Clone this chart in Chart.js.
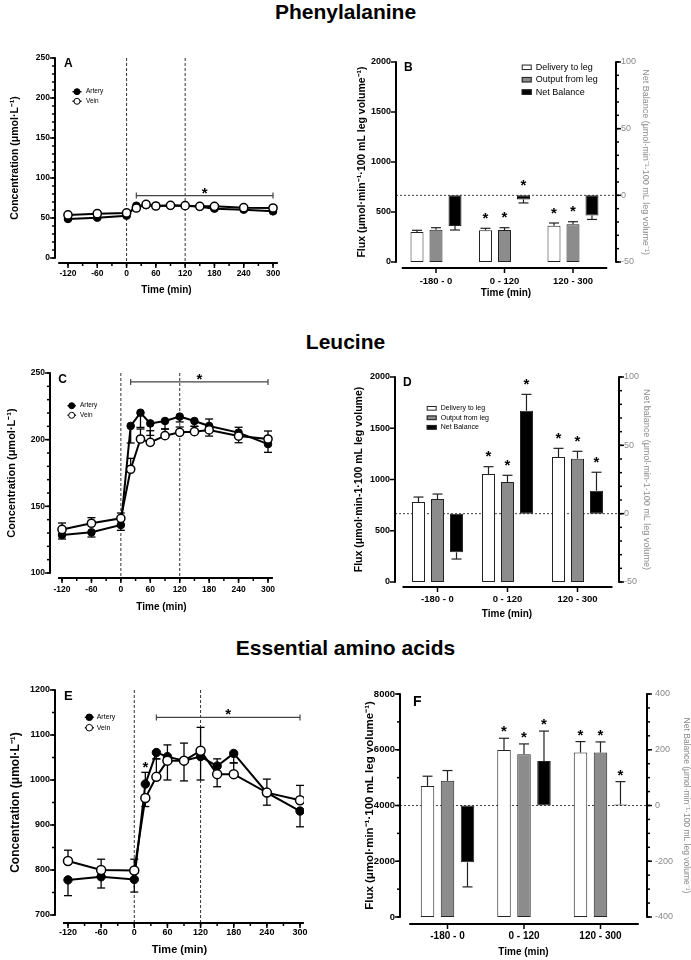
<!DOCTYPE html>
<html>
<head>
<meta charset="utf-8">
<script src="https://cdn.jsdelivr.net/npm/chart.js@4.4.1/dist/chart.umd.min.js"></script>
<style>
html,body{margin:0;padding:0;background:#fff;}
#wrap{position:relative;width:691px;height:960px;overflow:hidden;background:#fff;}
canvas{position:absolute;left:0;top:0;}
.sec{position:absolute;left:0;width:691px;text-align:center;font-family:Arial,"Liberation Sans",Helvetica,sans-serif;font-weight:bold;font-size:21px;line-height:24px;color:#000;}
</style>
</head>
<body>
<div id="wrap">
<div class="sec" style="top:0px">Phenylalanine</div>
<div class="sec" style="top:330px">Leucine</div>
<div class="sec" style="top:636px">Essential amino acids</div>
<canvas id="cA" width="691" height="960"></canvas>
<canvas id="cB" width="691" height="960"></canvas>
<canvas id="cC" width="691" height="960"></canvas>
<canvas id="cD" width="691" height="960"></canvas>
<canvas id="cE" width="691" height="960"></canvas>
<canvas id="cF" width="691" height="960"></canvas>
</div>
<script>
// ================= DATA =================
const times = [-120, -60, 0, 20, 40, 60, 90, 120, 150, 180, 240, 300];
const timeTicks = [-120, -60, 0, 60, 120, 180, 240, 300];
const phaseLines = [0, 120];
const periods = ['-180 - 0', '0 - 120', '120 - 300'];

// Phenylalanine (A)
const phenArtery = [48.8, 50.4, 52.9, 65.4, 66.0, 65.0, 65.4, 65.4, 64.2, 61.7, 60.4, 58.3];
const phenArteryErr = [-1.5, -1.5, -1.5, -1.5, -1.5, -1.5, -1.5, -1.5, -1.5, -1.5, -1.5, -1.5];
const phenVein = [53.8, 55.4, 56.3, 62.5, 67.0, 65.0, 65.8, 65.4, 64.6, 64.6, 62.9, 62.5];
const phenVeinErr = [1.5, 1.5, 1.5, 1.5, 1.5, 1.5, 1.5, 1.5, 1.5, 1.5, 1.5, 1.5];
const phenSig = [20, 300];
const phenYTicks = [0, 50, 100, 150, 200, 250];

// Phenylalanine (B)
const phenDelivery = [300, 317, 363];
const phenDeliveryErr = [17, 20, 27];
const phenDeliveryStars = [0, 1, 1];
const phenOutput = [323, 320, 377];
const phenOutputErr = [20, 23, 26];
const phenOutputStars = [0, 1, 1];
const phenNet = [-23.0, -3.1, -15.1];
const phenNetErr = [3.0, 2.6, 3.0];
const phenNetStars = [0, 1, 0];
const fluxTicksB = [0, 500, 1000, 1500, 2000];
const netTicksB = [-50, 0, 50, 100];

// Leucine (C)
const leuArtery = [128.5, 130.5, 136.0, 210.3, 220.2, 212.2, 214.0, 217.3, 214.0, 210.3, 205.3, 196.7];
const leuArteryErr = [-3.0, -3.5, -4.0, -12.8, -11.0, -9.0, -6.0, -4.0, -4.0, -7.6, -7.6, -6.2];
const leuVein = [132.7, 137.3, 141.0, 177.8, 200.5, 198.0, 203.0, 205.5, 206.0, 207.3, 202.7, 200.5];
const leuVeinErr = [4.8, 4.2, 4.0, 8.2, 7.5, 8.7, 5.0, 4.0, 4.0, 8.2, 6.6, 6.0];
const leuSig = [20, 300];
const leuYTicks = [100, 150, 200, 250];

// Leucine (D)
const leuDelivery = [780, 1054, 1220];
const leuDeliveryErr = [49, 71, 84];
const leuDeliveryStars = [0, 1, 1];
const leuOutput = [810, 976, 1203];
const leuOutputErr = [48, 65, 72];
const leuOutputStars = [0, 1, 1];
const leuNet = [-28.3, 75.3, 16.8];
const leuNetErr = [4.9, 12.0, 13.5];
const leuNetStars = [0, 1, 1];
const fluxTicksD = [0, 500, 1000, 1500, 2000];
const netTicksD = [-50, 0, 50, 100];

// Essential amino acids (E)
const eaaArtery = [778, 785, 779, 991, 1061, 1052, 1043, 1052, 1031, 1059, 972, 931];
const eaaArteryErr = [-35, -25, -28, 26, -14, 26, 39, -52, 16, -21, -28, -35];
const eaaArteryStars = [0, 0, 0, 1, 0, 0, 0, 0, 0, 0, 0, 0];
const eaaVein = [820, 800, 799, 960, 1007, 1043, 1043, 1065, 1013, 1013, 972, 955];
const eaaVeinErr = [24, 24, 25, -19, 40, -43, -45, 52, -28, 25, 30, 33];
const eaaSig = [40, 300];
const eaaYTicks = [700, 800, 900, 1000, 1100, 1200];

// Essential amino acids (F)
const eaaDelivery = [4704, 5994, 5899];
const eaaDeliveryErr = [347, 418, 394];
const eaaDeliveryStars = [0, 1, 1];
const eaaOutput = [4884, 5839, 5899];
const eaaOutputErr = [370, 370, 382];
const eaaOutputStars = [0, 1, 1];
const eaaNet = [-204, 160, 3.6];
const eaaNetErr = [88, 107, 82];
const eaaNetStars = [0, 1, 1];
const fluxTicksF = [0, 2000, 4000, 6000, 8000];
const netTicksF = [-400, -200, 0, 200, 400];

// ================= DRAWING =================
const FONT = 'Arial, "Liberation Sans", Helvetica, sans-serif';
Chart.defaults.font.family = FONT;
Chart.defaults.color = '#000';
Chart.defaults.animation = false;

const specs = {};

function seg(ctx, x0, y0, x1, y1) { ctx.beginPath(); ctx.moveTo(x0, y0); ctx.lineTo(x1, y1); ctx.stroke(); }
function star(ctx, x, cy, size) {
  ctx.save(); ctx.fillStyle = '#000'; ctx.font = 'bold ' + size + 'px ' + FONT;
  ctx.textAlign = 'center'; ctx.textBaseline = 'alphabetic';
  ctx.fillText('*', x, cy + size * 0.57); ctx.restore();
}

function drawAxes(chart, sp) {
  const ctx = chart.ctx, ca = chart.chartArea;
  ctx.strokeStyle = '#000';
  sp.yAxes.forEach(ax => {
    const s = chart.scales[ax.id];
    const x = ax.side === 'left' ? ca.left : ca.right;
    const d = ax.side === 'left' ? -1 : 1;
    const yt = s.getPixelForValue(s.max), yb = s.getPixelForValue(s.min);
    ctx.lineWidth = 2; seg(ctx, x, yt - 0.75, x, yb + 0.75);
    ctx.lineWidth = 1.5;
    s.ticks.forEach(t => { const y = s.getPixelForValue(t.value); seg(ctx, x, y, x + d * 5, y); });
    if (ax.minor) {
      const n = Math.round((s.max - s.min) / ax.minor);
      for (let k = 0; k <= n; k++) { const y = s.getPixelForValue(s.min + k * ax.minor); seg(ctx, x, y, x + d * 3, y); }
    }
  });
  const xa = sp.xAxis, s = chart.scales.x, y = ca.bottom + xa.offset;
  ctx.lineWidth = 2; seg(ctx, s.getPixelForValue(xa.from), y, s.getPixelForValue(xa.to), y);
  ctx.lineWidth = 1.5;
  s.ticks.forEach(t => { const x = s.getPixelForValue(t.value); seg(ctx, x, y, x, y + 5); });
  if (xa.minor) {
    const a = s.ticks[0].value, b = s.ticks[s.ticks.length - 1].value;
    const n = Math.round((b - a) / xa.minor);
    for (let k = 0; k <= n; k++) { const x = s.getPixelForValue(a + k * xa.minor); seg(ctx, x, y, x, y + 3); }
  }
}

const panelPlugin = {
  id: 'panel',
  beforeDatasetsDraw(chart) {
    const sp = specs[chart.canvas.id]; if (!sp) return;
    const ctx = chart.ctx, ca = chart.chartArea;
    ctx.save();
    if (sp.vlines) {
      const s = chart.scales.x; ctx.strokeStyle = '#333'; ctx.lineWidth = 1; ctx.setLineDash([3, 2]);
      sp.vlines.forEach(v => { const x = s.getPixelForValue(v); seg(ctx, x, ca.top, x, ca.bottom + sp.xAxis.offset); });
      ctx.setLineDash([]);
    }
    if (sp.zero) {
      const s = chart.scales[sp.zero]; const y = s.getPixelForValue(0);
      ctx.strokeStyle = '#444'; ctx.lineWidth = 1; ctx.setLineDash([2, 2]);
      seg(ctx, ca.left, y, ca.right, y); ctx.setLineDash([]);
    }
    if (chart.config.type === 'line') {
      ctx.strokeStyle = '#000'; ctx.lineWidth = 1.3;
      chart.data.datasets.forEach((ds, i) => {
        const meta = chart.getDatasetMeta(i), ys = chart.scales[meta.yAxisID];
        ds.errors.forEach((e, j) => {
          if (!e) return;
          const p = meta.data[j]; const end = ys.getPixelForValue(ds.data[j].y + e);
          seg(ctx, p.x, p.y, p.x, end); seg(ctx, p.x - 4, end, p.x + 4, end);
        });
      });
    }
    ctx.restore();
  },
  afterDatasetsDraw(chart) {
    const sp = specs[chart.canvas.id]; if (!sp) return;
    const ctx = chart.ctx;
    ctx.save();
    const isBar = chart.config.type === 'bar';
    chart.data.datasets.forEach((ds, i) => {
      const meta = chart.getDatasetMeta(i), ys = chart.scales[meta.yAxisID];
      meta.data.forEach((el, j) => {
        const v = ds.data[j].y, e = ds.errors[j] || 0;
        let end = el.y;
        if (isBar && e) {
          end = ys.getPixelForValue(v + (v < 0 ? -e : e));
          ctx.strokeStyle = '#222'; ctx.lineWidth = 1.2;
          seg(ctx, el.x, el.y, el.x, end); seg(ctx, el.x - 5, end, el.x + 5, end);
        } else if (!isBar && e) {
          end = ys.getPixelForValue(v + e);
        }
        if (ds.stars && ds.stars[j]) {
          const top = Math.min(el.y, end, isBar ? el.base : el.y);
          star(ctx, el.x, top - sp.starGap, sp.starSize);
        }
      });
    });
    drawAxes(chart, sp);
    if (sp.bracket) {
      const b = sp.bracket, xs = chart.scales.x, ys = chart.scales.y;
      const x0 = xs.getPixelForValue(b.range[0]), x1 = xs.getPixelForValue(b.range[1]), y = ys.getPixelForValue(b.level);
      ctx.strokeStyle = '#444'; ctx.lineWidth = 1.2;
      seg(ctx, x0, y, x1, y); seg(ctx, x0, y - 3, x0, y + 3); seg(ctx, x1, y - 3, x1, y + 3);
      star(ctx, (x0 + x1) / 2, y - b.gap, sp.starSize);
    }
    if (sp.lineLegend) {
      const L = sp.lineLegend;
      chart.data.datasets.forEach((ds, k) => {
        const y = L.y + k * L.dy;
        ctx.strokeStyle = '#000'; ctx.lineWidth = 1.5;
        seg(ctx, L.x - L.half, y, L.x + L.half, y);
        ctx.beginPath(); ctx.arc(L.x, y, L.r, 0, Math.PI * 2);
        ctx.fillStyle = ds.pointBackgroundColor; ctx.fill(); ctx.lineWidth = 1; ctx.stroke();
        ctx.fillStyle = '#000'; ctx.font = L.font + 'px ' + FONT; ctx.textAlign = 'left'; ctx.textBaseline = 'middle';
        ctx.fillText(ds.label, L.tx, y);
      });
    }
    if (sp.barLegend) {
      const L = sp.barLegend;
      chart.data.datasets.forEach((ds, k) => {
        const y = L.y + k * L.dy;
        ctx.fillStyle = ds.backgroundColor; ctx.fillRect(L.x, y - L.bh / 2, L.bw, L.bh);
        ctx.strokeStyle = '#222'; ctx.lineWidth = 1; ctx.strokeRect(L.x + 0.5, y - L.bh / 2 + 0.5, L.bw - 1, L.bh - 1);
        ctx.fillStyle = '#000'; ctx.font = L.font + 'px ' + FONT; ctx.textAlign = 'left'; ctx.textBaseline = 'middle';
        ctx.fillText(ds.label, L.tx, y);
      });
    }
    if (sp.letter) {
      ctx.fillStyle = '#000'; ctx.font = 'bold ' + sp.letter.size + 'px ' + FONT;
      ctx.textAlign = 'center'; ctx.textBaseline = 'middle';
      ctx.fillText(sp.letter.t, sp.letter.x, sp.letter.y);
    }
    ctx.restore();
  }
};

function makeLine(id, c) {
  specs[id] = c.spec;
  const pts = arr => times.map((t, i) => ({ x: t, y: arr[i] }));
  return new Chart(document.getElementById(id), {
    type: 'line',
    data: {
      datasets: [
        { label: 'Artery', data: pts(c.artery), errors: c.arteryErr, stars: c.arteryStars, order: 1,
          borderColor: '#000', borderWidth: 2, pointRadius: c.r, pointBackgroundColor: '#000',
          pointBorderColor: '#000', pointBorderWidth: 1, tension: 0, fill: false },
        { label: 'Vein', data: pts(c.vein), errors: c.veinErr, order: 0,
          borderColor: '#000', borderWidth: 2, pointRadius: c.r + 0.3, pointBackgroundColor: '#fff',
          pointBorderColor: '#000', pointBorderWidth: 1.5, tension: 0, fill: false }
      ]
    },
    options: {
      responsive: false, animation: false, events: [],
      layout: { padding: c.pad },
      plugins: { legend: { display: false }, tooltip: { enabled: false } },
      scales: {
        x: {
          type: 'linear', min: c.xMin, max: c.xMax, offset: false,
          afterBuildTicks: s => { s.ticks = timeTicks.map(v => ({ value: v })); },
          afterFit: s => { s.height = c.xH; },
          grid: { display: false, drawTicks: false }, border: { display: false },
          ticks: { autoSkip: false, maxRotation: 0, font: { size: c.tickSize, weight: 'bold' }, padding: c.xLabPad, callback: v => String(v) },
          title: { display: true, text: 'Time (min)', font: { size: c.xTitSize, weight: 'bold' }, padding: { top: 0, bottom: c.xTitPad } }
        },
        y: {
          type: 'linear', min: c.yTicks[0], max: c.yTicks[c.yTicks.length - 1],
          afterBuildTicks: s => { s.ticks = c.yTicks.map(v => ({ value: v })); },
          afterFit: s => { s.width = c.yW; },
          grid: { display: false, drawTicks: false }, border: { display: false },
          ticks: { font: { size: c.tickSize, weight: 'bold' }, padding: 5, callback: v => String(v) },
          title: { display: true, text: 'Concentration (\u03bcmol\u00b7L\u207b\u00b9)', font: { size: c.yTitSize, weight: 'bold' }, padding: { top: c.yTitPad, bottom: 0 } }
        }
      }
    },
    plugins: [panelPlugin]
  });
}

function makeBar(id, c) {
  specs[id] = c.spec;
  const pts = arr => arr.map((v, i) => ({ x: i, y: v }));
  const common = { borderColor: '#222', borderWidth: 1, borderSkipped: false, categoryPercentage: c.cat, barPercentage: c.bar };
  return new Chart(document.getElementById(id), {
    type: 'bar',
    data: {
      datasets: [
        Object.assign({ label: 'Delivery to leg', data: pts(c.del), errors: c.delErr, stars: c.delStars, backgroundColor: '#ffffff', yAxisID: 'y' }, common),
        Object.assign({ label: 'Output from leg', data: pts(c.out), errors: c.outErr, stars: c.outStars, backgroundColor: '#8c8c8c', yAxisID: 'y' }, common),
        Object.assign({ label: 'Net Balance', data: pts(c.net), errors: c.netErr, stars: c.netStars, backgroundColor: '#000000', yAxisID: 'y2' }, common)
      ]
    },
    options: {
      responsive: false, animation: false, events: [],
      layout: { padding: c.pad },
      plugins: { legend: { display: false }, tooltip: { enabled: false } },
      scales: {
        x: {
          type: 'linear', min: c.xMin, max: c.xMax, offset: false,
          afterBuildTicks: s => { s.ticks = periods.map((p, i) => ({ value: i })); },
          afterFit: s => { s.height = c.xH; },
          grid: { display: false, drawTicks: false }, border: { display: false },
          ticks: { autoSkip: false, maxRotation: 0, font: { size: c.xTickSize, weight: 'bold' }, padding: c.xLabPad, callback: v => periods[v] },
          title: { display: true, text: 'Time (min)', font: { size: 10, weight: 'bold' }, padding: { top: 0, bottom: c.xTitPad } }
        },
        y: {
          type: 'linear', position: 'left', min: c.fluxTicks[0], max: c.fluxTicks[c.fluxTicks.length - 1],
          afterBuildTicks: s => { s.ticks = c.fluxTicks.map(v => ({ value: v })); },
          afterFit: s => { s.width = c.yW; },
          grid: { display: false, drawTicks: false }, border: { display: false },
          ticks: { font: { size: c.tickSize, weight: 'bold' }, padding: 5, callback: v => String(v) },
          title: { display: true, text: c.yTitle, font: { size: c.yTitSize, weight: 'bold' }, padding: { top: c.yTitPad, bottom: 0 } }
        },
        y2: {
          type: 'linear', position: 'right', min: c.netTicks[0], max: c.netTicks[c.netTicks.length - 1],
          afterBuildTicks: s => { s.ticks = c.netTicks.map(v => ({ value: v })); },
          afterFit: s => { s.width = c.y2W; },
          grid: { display: false, drawTicks: false }, border: { display: false },
          ticks: { font: { size: c.tick2Size }, color: '#8a8a8a', padding: c.tick2Pad, callback: v => String(v) },
          title: { display: true, text: c.y2Title, color: '#8a8a8a', font: { size: c.y2TitSize }, padding: { top: c.y2TitPad, bottom: 0 } }
        }
      }
    },
    plugins: [panelPlugin]
  });
}

// ---- Panel A ----
makeLine('cA', {
  artery: phenArtery, arteryErr: phenArteryErr, vein: phenVein, veinErr: phenVeinErr, r: 3.8,
  pad: { left: 0, top: 58, right: 413, bottom: 662 },
  xMin: -146.6, xMax: 310.2, yTicks: phenYTicks, xH: 40, yW: 55,
  tickSize: 8.5, xLabPad: 10.6, xTitSize: 10, xTitPad: 2, yTitSize: 10.5, yTitPad: 8.7,
  spec: {
    letter: { t: 'A', x: 68.3, y: 64, size: 12 },
    vlines: phaseLines,
    xAxis: { offset: 5, from: -140, to: 310, minor: 30 },
    yAxes: [{ id: 'y', side: 'left', minor: 10 }],
    bracket: { range: phenSig, level: 78, gap: 6.5 },
    lineLegend: { x: 77, y: 91.7, dy: 9.6, half: 4.5, r: 3, tx: 86, font: 6.5 },
    starGap: 9, starSize: 15
  }
});

// ---- Panel B ----
makeBar('cB', {
  del: phenDelivery, delErr: phenDeliveryErr, delStars: phenDeliveryStars,
  out: phenOutput, outErr: phenOutputErr, outStars: phenOutputStars,
  net: phenNet, netErr: phenNetErr, netStars: phenNetStars,
  fluxTicks: fluxTicksB, netTicks: netTicksB,
  pad: { left: 330, top: 62, right: 0, bottom: 658 },
  xMin: -0.584, xMax: 2.628, cat: 0.832, bar: 0.684,
  xH: 40, yW: 66, y2W: 75, tickSize: 9, xTickSize: 9.5, xLabPad: 13.3, xTitPad: 3,
  yTitle: 'Flux (\u03bcmol\u00b7min\u207b\u00b9\u00b7100 mL leg volume\u207b\u00b9)', yTitSize: 10.5, yTitPad: 25.4,
  y2Title: 'Net Balance (\u03bcmol\u00b7min\u207b\u00b9\u00b7100 mL leg volume\u207b\u00b9)', y2TitSize: 9, y2TitPad: 40.6,
  tick2Size: 9, tick2Pad: 5,
  spec: {
    letter: { t: 'B', x: 408.3, y: 67.3, size: 12 },
    zero: 'y2',
    xAxis: { offset: 6, from: -0.5, to: 2.5 },
    yAxes: [{ id: 'y', side: 'left', minor: 0 }, { id: 'y2', side: 'right', minor: 10 }],
    barLegend: { x: 521.7, y: 67.3, dy: 12.4, bw: 10, bh: 5.5, tx: 535.7, font: 9 },
    starGap: 14, starSize: 15
  }
});

// ---- Panel C ----
makeLine('cC', {
  artery: leuArtery, arteryErr: leuArteryErr, vein: leuVein, veinErr: leuVeinErr, r: 3.8,
  pad: { left: 0, top: 373, right: 418, bottom: 347 },
  xMin: -144.5, xMax: 310.2, yTicks: leuYTicks, xH: 40, yW: 50,
  tickSize: 8.5, xLabPad: 11.6, xTitSize: 10, xTitPad: 0, yTitSize: 11, yTitPad: 5.4,
  spec: {
    letter: { t: 'C', x: 62.7, y: 379.3, size: 12 },
    vlines: phaseLines,
    xAxis: { offset: 5, from: -128, to: 310, minor: 30 },
    yAxes: [{ id: 'y', side: 'left', minor: 10 }],
    bracket: { range: leuSig, level: 243.3, gap: 6.5 },
    lineLegend: { x: 71.7, y: 405.7, dy: 9.6, half: 4.2, r: 3, tx: 80, font: 6.5 },
    starGap: 9, starSize: 15
  }
});

// ---- Panel D ----
makeBar('cD', {
  del: leuDelivery, delErr: leuDeliveryErr, delStars: leuDeliveryStars,
  out: leuOutput, outErr: leuOutputErr, outStars: leuOutputStars,
  net: leuNet, netErr: leuNetErr, netStars: leuNetStars,
  fluxTicks: fluxTicksD, netTicks: netTicksD,
  pad: { left: 330, top: 377, right: 0, bottom: 338 },
  xMin: -0.607, xMax: 2.593, cat: 0.814, bar: 0.684,
  xH: 40, yW: 65, y2W: 72, tickSize: 9, xTickSize: 9.5, xLabPad: 11.3, xTitPad: 2,
  yTitle: 'Flux (\u03bcmol\u00b7min-1\u00b7100 mL leg volume)', yTitSize: 10.5, yTitPad: 23,
  y2Title: 'Net balance (\u03bcmol\u00b7min-1\u00b7100 mL leg volume)', y2TitSize: 9, y2TitPad: 39.6,
  tick2Size: 9, tick2Pad: 5,
  spec: {
    letter: { t: 'D', x: 407.3, y: 382.7, size: 12 },
    zero: 'y2',
    xAxis: { offset: 5, from: -0.5, to: 2.5 },
    yAxes: [{ id: 'y', side: 'left', minor: 0 }, { id: 'y2', side: 'right', minor: 10 }],
    barLegend: { x: 426.7, y: 408.3, dy: 9.5, bw: 10, bh: 4.7, tx: 440.7, font: 7 },
    starGap: 14, starSize: 15
  }
});

// ---- Panel E ----
makeLine('cE', {
  artery: eaaArtery, arteryErr: eaaArteryErr, arteryStars: eaaArteryStars, vein: eaaVein, veinErr: eaaVeinErr, r: 4.2,
  pad: { left: 0, top: 690, right: 387, bottom: 0 },
  xMin: -143.5, xMax: 307.2, yTicks: eaaYTicks, xH: 45, yW: 55,
  tickSize: 9, xLabPad: 12.6, xTitSize: 11, xTitPad: 3, yTitSize: 12, yTitPad: 8,
  spec: {
    letter: { t: 'E', x: 68.3, y: 696.7, size: 13 },
    vlines: phaseLines,
    xAxis: { offset: 8, from: -129, to: 307, minor: 30 },
    yAxes: [{ id: 'y', side: 'left', minor: 50 }],
    bracket: { range: eaaSig, level: 1139, gap: 7 },
    lineLegend: { x: 89.3, y: 717.3, dy: 10.4, half: 4.5, r: 3.3, tx: 96.7, font: 7 },
    starGap: 9, starSize: 15
  }
});

// ---- Panel F ----
makeBar('cF', {
  del: eaaDelivery, delErr: eaaDeliveryErr, delStars: eaaDeliveryStars,
  out: eaaOutput, outErr: eaaOutputErr, outStars: eaaOutputStars,
  net: eaaNet, netErr: eaaNetErr, netStars: eaaNetStars,
  fluxTicks: fluxTicksF, netTicks: netTicksF,
  pad: { left: 330, top: 694, right: 0, bottom: 0 },
  xMin: -0.621, xMax: 2.608, cat: 0.784, bar: 0.675,
  xH: 43, yW: 70, y2W: 44, tickSize: 9.5, xTickSize: 10, xLabPad: 13.3, xTitPad: 2,
  yTitle: 'Flux (\u03bcmol\u00b7min\u207b\u00b9\u00b7100 mL leg volume\u207b\u00b9)', yTitSize: 11.5, yTitPad: 33,
  y2Title: 'Net Balance (\u03bcmol\u00b7min\u207b\u00b9\u00b7100 mL leg volume\u207b\u00b9)', y2TitSize: 8.5, y2TitPad: 0,
  tick2Size: 9, tick2Pad: 8,
  spec: {
    letter: { t: 'F', x: 417.3, y: 701.7, size: 14 },
    zero: 'y2',
    xAxis: { offset: 7, from: -0.5, to: 2.5 },
    yAxes: [{ id: 'y', side: 'left', minor: 1000 }, { id: 'y2', side: 'right', minor: 50 }],
    starGap: 10.5, starSize: 15
  }
});
</script>
</body>
</html>
